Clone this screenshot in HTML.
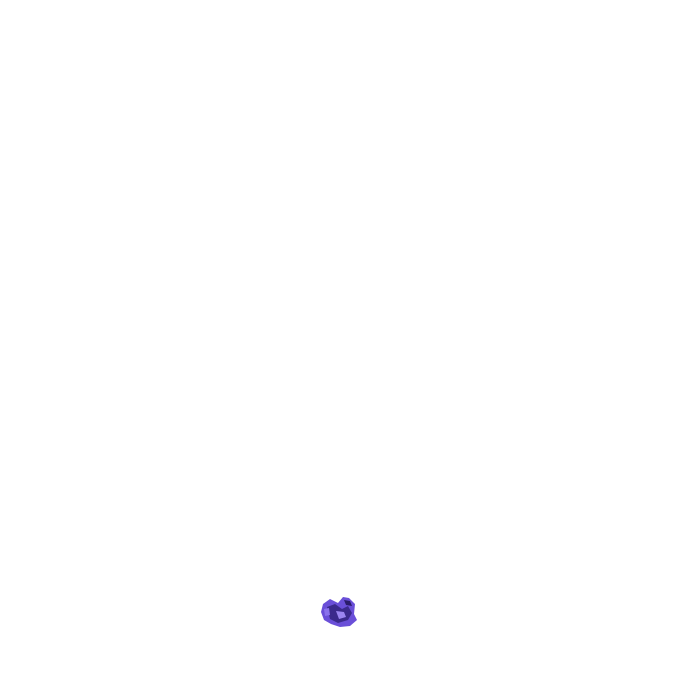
<!DOCTYPE html>
<html><head><meta charset="utf-8"><style>html,body{margin:0;padding:0;background:#fff;width:683px;height:683px;overflow:hidden}</style></head>
<body>
<svg width="683" height="683" xmlns="http://www.w3.org/2000/svg">
<rect width="683" height="683" fill="#fff"/>
<polygon points="323,604 330,599 338,603 343,597 349,598 355,604 354,614 357,620 350,626 340,627 331,624 324,620 321,612" fill="#6a4fd8"/>
<polygon points="327,607 335,604 342,609 348,606 352,613 348,620 338,623 330,619" fill="#3b2a8c"/>
<polygon points="336,611 344,612 346,617 339,619" fill="#9b85f0"/>
<polygon points="344,600 350,601 352,606 346,605" fill="#2a1c6a"/>
<polygon points="324,609 329,608 330,615 325,616" fill="#8a72ec"/>
</svg>
</body></html>
